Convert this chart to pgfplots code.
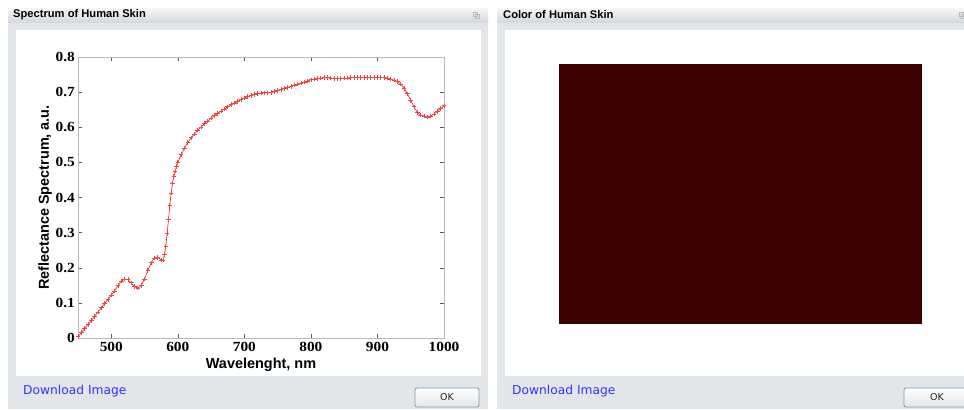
\documentclass[border=0pt]{standalone}
\usepackage{fontspec}
\usepackage{pgfplots}
\usepackage{pgfplotstable}
\pgfplotsset{compat=1.18}
\setmainfont{Liberation Serif}
\newfontfamily\armfont{Liberation Sans}
\newfontfamily\uifont{DejaVu Sans}
\newfontfamily\tickfont[FakeStretch=1.1]{Liberation Serif}

\definecolor{panel}{RGB}{227,230,233}
\definecolor{bartop}{RGB}{247,247,248}
\definecolor{barbot}{RGB}{213,216,220}
\definecolor{linkblue}{RGB}{51,51,255}
\definecolor{skin}{RGB}{61,1,1}
\definecolor{specred}{RGB}{232,30,30}
\definecolor{markred}{RGB}{240,70,70}
\definecolor{btnborder}{RGB}{128,152,170}

% reflectance of human skin
\pgfplotstableread{
wl R
450 0.004
455 0.015
460 0.027
465 0.038
470 0.050
475 0.062
480 0.074
485 0.086
490 0.098
495 0.110
500 0.122
505 0.134
510 0.149
515 0.162
520 0.168
525 0.166
530 0.157
535 0.146
540 0.142
545 0.149
550 0.168
555 0.193
560 0.214
565 0.228
570 0.230
575 0.222
578 0.222
580 0.238
582 0.262
584 0.298
586 0.338
588 0.378
590 0.413
592 0.440
594 0.460
596 0.475
598 0.488
600 0.499
605 0.522
610 0.541
615 0.557
620 0.570
625 0.581
630 0.592
635 0.601
640 0.610
645 0.618
650 0.626
655 0.633
660 0.640
665 0.646
670 0.652
675 0.658
680 0.664
685 0.669
690 0.674
695 0.679
700 0.683
705 0.687
710 0.690
715 0.693
720 0.696
725 0.697
730 0.698
735 0.698
740 0.699
745 0.701
750 0.704
755 0.707
760 0.710
765 0.713
770 0.716
775 0.720
780 0.723
785 0.726
790 0.729
795 0.732
800 0.735
805 0.737
810 0.739
815 0.740
820 0.741
825 0.741
830 0.740
835 0.739
840 0.739
845 0.739
850 0.740
855 0.740
860 0.741
865 0.742
870 0.742
875 0.742
880 0.742
885 0.742
890 0.742
895 0.742
900 0.742
905 0.742
910 0.741
915 0.740
920 0.737
925 0.734
930 0.730
935 0.723
940 0.711
945 0.695
950 0.677
955 0.658
960 0.642
965 0.635
970 0.632
975 0.629
980 0.632
985 0.638
990 0.645
995 0.653
1000 0.661
}\spectrum

\begin{document}
\begin{tikzpicture}
\begin{scope}[x=1bp,y=-1bp]
  \path[use as bounding box] (0,0) rectangle (964,409);
  \clip (0,0) rectangle (964,409);
  \fill[white] (0,0) rectangle (964,409);
  % dialog frames
  \foreach \a/\b in {8/488,497/975} {
    \fill[panel] (\a,22) rectangle (\b,409);
    \shade[top color=bartop,bottom color=barbot] (\a,8) rectangle (\b,22);
  }
  \fill[white] (16,30) rectangle (481,376);
  \fill[white] (505,30) rectangle (975,376);
  % titles
  \node[anchor=west,inner sep=0pt,font=\armfont\bfseries\fontsize{11.2}{12}\selectfont]
    at (13,15) {Spectrum of Human Skin};
  \node[anchor=west,inner sep=0pt,font=\armfont\bfseries\fontsize{11.2}{12}\selectfont]
    at (503,15) {Color of Human Skin};
  % close icons
  \foreach \c in {476,962} {
    \draw[gray!55,line width=0.6bp] (\c-3,12) rectangle (\c+1,16);
    \draw[gray!55,line width=0.6bp] (\c-1,14) rectangle (\c+3,18);
  }
  % links
  \node[anchor=west,inner sep=0pt,text=linkblue,font=\uifont\fontsize{12.3}{13}\selectfont]
    at (23,391) {Download Image};
  \node[anchor=west,inner sep=0pt,text=linkblue,font=\uifont\fontsize{12.3}{13}\selectfont]
    at (512,391) {Download Image};
  % OK buttons
  \foreach \a/\b in {415/479,904/970} {
    \draw[btnborder,line width=0.8bp,rounded corners=2bp,top color=white,bottom color=black!10]
      (\a,388) rectangle (\b,407);
    \node[inner sep=0pt,text=black!85,font=\uifont\fontsize{9.5}{10}\selectfont]
      at ({(\a+\b)/2},397.5) {OK};
  }
\end{scope}

\begin{axis}[
  at={(78bp,-338bp)}, anchor=south west,
  scale only axis, width=366bp, height=281bp,
  xmin=450, xmax=1000, ymin=0, ymax=0.8,
  xtick={500,600,700,800,900,1000},
  ytick={0,0.1,0.2,0.3,0.4,0.5,0.6,0.7,0.8},
  tick align=inside, major tick length=4bp,
  tick style={black!65,line width=0.5bp},
  axis line style={gray!55,line width=0.8bp},
  /pgf/number format/assume math mode=true,
  /pgf/number format/1000 sep={},
  tick label style={font=\tickfont\bfseries\fontsize{14}{15}\selectfont,inner sep=0pt},
  yticklabel style={/pgf/number format/fixed,/pgf/number format/precision=1,xshift=-3bp},
  xticklabel style={yshift=-4.5bp},
  xlabel={Wavelenght, nm},
  ylabel={Reflectance Spectrum, a.u.},
  label style={font=\armfont\bfseries\fontsize{14.5}{16}\selectfont,inner sep=0pt},
  xlabel style={at={(axis description cs:0.5,-0.071)},anchor=north},
  ylabel style={at={(axis description cs:-0.09,0.5)},anchor=center},
]
\addplot[color=specred,line width=0.6bp,mark=+,mark size=2.3bp,
  mark options={draw=markred,line width=0.8bp}]
  table[x=wl,y=R] {\spectrum};
\end{axis}

\begin{axis}[
  at={(559bp,-324bp)}, anchor=south west,
  scale only axis, width=363bp, height=260bp,
  hide axis, xmin=0, xmax=1, ymin=0, ymax=1,
]
\addplot[draw=none,fill=skin] coordinates {(0,1) (1,1)} \closedcycle;
\end{axis}
\end{tikzpicture}
\end{document}
